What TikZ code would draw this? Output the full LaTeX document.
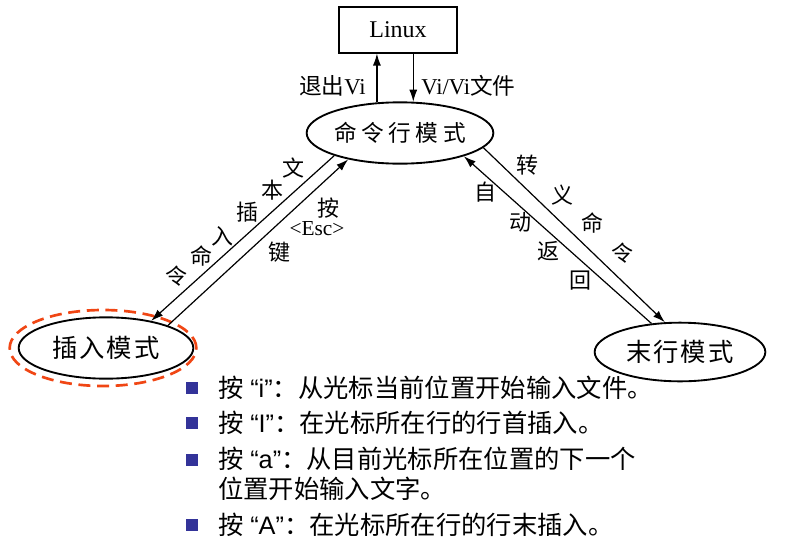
\documentclass[tikz,border=0pt]{standalone}
\usepackage{fontspec}
\setmainfont{Liberation Serif}
\newfontfamily\cjk{Noto Sans CJK SC}
\newfontfamily\arial{Liberation Sans}
\usetikzlibrary{calc,positioning,shapes,arrows,arrows.meta}

\definecolor{bulletblue}{RGB}{51,51,153}
\definecolor{ringred}{RGB}{240,70,20}

\tikzset{
  mode/.style={draw,ellipse,line width=1.4pt,inner sep=0pt,font=\cjk\fontsize{19}{19}\selectfont},
  tag/.style={inner sep=0pt,font=\cjk\fontsize{16.5}{16.5}\selectfont},
  item/.style={anchor=west,inner sep=0pt,align=left,font=\cjk\fontsize{19}{22.5}\selectfont},
  dot/.style={fill=bulletblue,minimum size=9.5pt,inner sep=0pt},
  link/.style={line width=0.9pt,-{Latex[length=9pt,width=6pt]}}
}

\begin{document}
\begin{tikzpicture}[x=0.75pt,y=-0.75pt]
\useasboundingbox (0,0) rectangle (792,553);

 \node[draw,line width=1.3pt,minimum width=89pt,minimum height=34pt,font=\fontsize{18}{18}\selectfont] (linux) at (398,30) {Linux};
 \node[mode,minimum width=130pt,minimum height=46pt,font=\cjk\fontsize{17}{17}\selectfont] (cmd) at (400,133)
   {命\hspace{3.5pt}令\hspace{3.5pt}行\hspace{3.5pt}模\hspace{3.5pt}式};
 \node[mode,minimum width=131pt,minimum height=46pt] (ins) at (106,348) {插\hspace{1.5pt}入\hspace{1.5pt}模\hspace{1.5pt}式};
 \node[mode,minimum width=128pt,minimum height=44pt] (last) at (680,352) {末\hspace{1.5pt}行\hspace{1.5pt}模\hspace{1.5pt}式};
 \node[draw=ringred,ellipse,line width=2pt,dash pattern=on 9pt off 5pt,minimum width=140pt,minimum height=57pt] (ring) at (103,348) {};

% to and from Linux
\draw[link] (cmd.127) -- (cmd.127 |- linux.south);
\draw[link] (cmd.67 |- linux.south) -- (cmd.67);
\node[anchor=east,inner sep=0pt,font=\fontsize{17}{17}\selectfont] (quit) at (366,86) {{\cjk 退出}Vi};
\node[anchor=west,inner sep=0pt,font=\fontsize{17}{17}\selectfont] (open) at (421,86) {Vi/Vi{\cjk 文件}};

% command mode <-> insert mode
\draw[link] (cmd.199) -- (ins.31);
\draw[link] (ins.20) -- (cmd.207);

 \node[tag] (t1) at (293,168) {文};
 \node[tag] (t2) at (272,190) {本};
 \node[tag] (t3) at (247,212) {插};
 \node[tag] (t4) at (222,236) {入};
 \node[tag] (t5) at (201,256) {命};
 \node[tag] (t6) at (176,276) {令};
 \node[tag] (k1) at (328,208) {按};
 \node[inner sep=0pt,font=\fontsize{16}{16}\selectfont] (esc) at (317,229) {<Esc>};
 \node[tag] (k2) at (279,252) {键};

% command mode <-> last line mode
\draw[link] (cmd.350) -- (last.117);
\draw[link] (last.135) -- (cmd.340);

 \node[tag] (r1) at (527,165) {转};
 \node[tag] (r2) at (562,195) {义};
 \node[tag] (r3) at (592,223) {命};
 \node[tag] (r4) at (622,253) {令};
 \node[tag] (a1) at (485,192) {自};
 \node[tag] (a2) at (520,222) {动};
 \node[tag] (a3) at (548,251) {返};
 \node[tag] (a4) at (580,281) {回};

% list of keys
 \node[dot] (d1) at (192,388) {};
 \node[dot] (d2) at (192,423) {};
 \node[dot] (d3) at (192,460) {};
 \node[dot] (d4) at (192,525) {};
 \node[item] (i1) at (218,388) {按\hspace{5pt}{\arial “i”}：从光标当前位置开始输入文件。};
 \node[item] (i2) at (218,423) {按\hspace{5pt}{\arial “I”}：在光标所在行的行首插入。};
 \node[item,anchor=north west] (i3) at (218,447) {按\hspace{5pt}{\arial “a”}：从目前光标所在位置的下一个\\位置开始输入文字。};
 \node[item] (i4) at (218,525) {按\hspace{5pt}{\arial “A”}：在光标所在行的行末插入。};

\end{tikzpicture}
\end{document}
